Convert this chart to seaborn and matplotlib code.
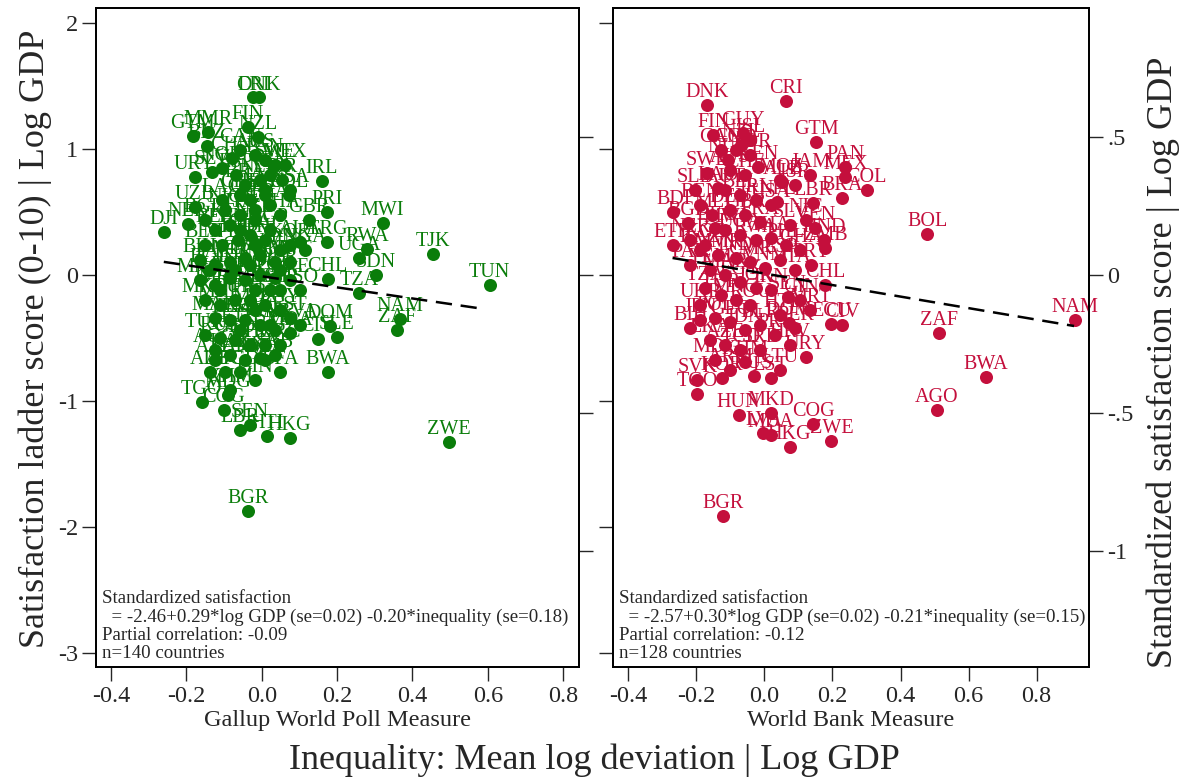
import matplotlib
matplotlib.use("Agg")
import matplotlib.pyplot as plt
import seaborn as sns
import pandas as pd

# Gallup World Poll panel (residual satisfaction ladder vs residual inequality)
gallup_codes = ['CRI', 'DNK', 'FIN', 'NZL', 'GTM', 'MMR', 'BLZ', 'CHN', 'SLV', 'URY',
                'NOR', 'PAN', 'MEX', 'CAN', 'AUS', 'ISR', 'USA', 'BOL', 'IRL', 'SWE',
                'VEN', 'BRA', 'NLD', 'ESP', 'COL', 'SAU', 'LAO', 'UZB', 'NER', 'DJI',
                'GBR', 'PRI', 'ARG', 'BGD', 'BEL', 'KEN', 'ITA', 'DEU', 'FRA', 'THA',
                'AUT', 'KOR', 'JPN', 'PHL', 'GHA', 'IND', 'NPL', 'BEN', 'BIH', 'PAK',
                'MLI', 'CMR', 'VNM', 'JOR', 'KWT', 'ARE', 'POL', 'ROU', 'UKR', 'BLR',
                'KGZ', 'MNG', 'ECU', 'MKD', 'MNE', 'HUN', 'PRT', 'IRN', 'EGY', 'EST',
                'LVA', 'MAR', 'YEM', 'LBN', 'SVN', 'SVK', 'CHL', 'MDA', 'TUR', 'RUS',
                'GEO', 'LTU', 'HRV', 'GRC', 'KAZ', 'ARM', 'LKA', 'SRB', 'AZE', 'ALB',
                'AFG', 'TCD', 'GIN', 'BFA', 'KHM', 'TGO', 'MDG', 'COG', 'LBR', 'SEN',
                'HTI', 'HKG', 'DOM', 'SLE', 'CIV', 'BWA', 'SDN', 'TZA', 'UGA', 'RWA',
                'MWI', 'TJK', 'TUN', 'NAM', 'ZAF', 'ZWE', 'BGR', 'NGA', 'LSO', 'CZE',
                'CHE', 'SGP', 'MYS', 'IDN', 'TWN', 'SYR', 'MRT', 'GAB', 'IRQ', 'PER',
                'NIC', 'HND', 'PRY', 'DZA', 'ETH', 'MOZ', 'AGO', 'LUX']
gallup_x = [-0.024, -0.006, -0.037, -0.011, -0.183, -0.143, -0.146, -0.080, -0.133, -0.178,
            -0.106, 0.008, 0.061, -0.058, -0.019, 0.053, 0.074, 0.072, 0.159, 0.035,
            0.021, -0.045, -0.005, -0.069, -0.032, 0.008, -0.106, -0.178, -0.197, -0.260,
            0.125, 0.173, 0.173, -0.151, -0.125, -0.085, -0.058, -0.019, 0.021, 0.048,
            0.101, 0.074, 0.048, 0.008, -0.032, -0.064, -0.106, -0.151, -0.165, -0.125,
            -0.085, -0.045, -0.005, 0.035, 0.074, 0.074, 0.035, -0.005, -0.045, -0.085,
            -0.125, -0.165, -0.138, -0.151, -0.112, -0.072, -0.032, 0.008, 0.048, 0.074,
            0.101, -0.125, -0.085, -0.045, -0.005, 0.035, 0.175, 0.074, -0.151, -0.112,
            -0.072, -0.032, 0.008, 0.048, -0.085, -0.045, -0.005, 0.035, -0.125, -0.138,
            -0.098, -0.058, -0.019, 0.048, -0.085, -0.159, -0.090, -0.101, -0.058, -0.032,
            0.013, 0.074, 0.181, 0.199, 0.149, 0.175, 0.303, 0.258, 0.258, 0.279,
            0.321, 0.454, 0.605, 0.367, 0.359, 0.497, -0.037, 0.114, 0.101, -0.019,
            -0.058, 0.021, -0.019, -0.072, 0.021, 0.048, -0.112, 0.021, -0.032, 0.048,
            -0.098, -0.058, -0.019, 0.008, -0.058, -0.019, -0.125, 0.008]
gallup_y = [1.41, 1.41, 1.175, 1.095, 1.103, 1.135, 1.024, 0.929, 0.817, 0.778,
            0.85, 0.913, 0.873, 0.992, 0.952, 0.754, 0.675, 0.635, 0.746, 0.873,
            0.794, 0.714, 0.754, 0.794, 0.595, 0.635, 0.595, 0.540, 0.405, 0.341,
            0.437, 0.500, 0.262, 0.437, 0.357, 0.397, 0.476, 0.516, 0.556, 0.476,
            0.262, 0.238, 0.198, 0.278, 0.317, 0.278, 0.238, 0.238, 0.119, 0.079,
            0.103, 0.135, 0.159, 0.103, 0.103, -0.040, -0.024, 0.0, -0.040, -0.024,
            -0.079, -0.040, 0.040, -0.198, -0.238, -0.198, -0.198, -0.238, -0.278, -0.341,
            -0.397, -0.341, -0.357, -0.357, -0.397, -0.437, -0.032, -0.460, -0.476, -0.500,
            -0.516, -0.556, -0.556, -0.556, -0.635, -0.675, -0.659, -0.635, -0.675, -0.770,
            -0.770, -0.770, -0.833, -0.770, -0.913, -1.008, -0.952, -1.071, -1.230, -1.190,
            -1.278, -1.294, -0.405, -0.492, -0.508, -0.770, 0.0, -0.143, 0.135, 0.206,
            0.413, 0.167, -0.079, -0.349, -0.437, -1.325, -1.873, 0.198, -0.119, 0.437,
            0.635, 0.357, -0.119, 0.040, -0.119, -0.119, -0.119, -0.397, 0.079, 0.040,
            0.516, 0.357, 0.238, -0.675, -0.437, -0.278, -0.595, 0.675]

# World Bank panel
wb_codes = ['DNK', 'CRI', 'FIN', 'GUY', 'NZL', 'GTM', 'COD', 'NLD', 'SWE', 'KEN',
            'MOZ', 'JAM', 'PAN', 'MEX', 'COL', 'BRA', 'LBR', 'ALB', 'NPL', 'BDI',
            'BGD', 'LAO', 'ETH', 'HND', 'ZMB', 'KAZ', 'BOL', 'CHL', 'PRY', 'TZA',
            'SEN', 'ECU', 'CIV', 'DOM', 'PER', 'URY', 'SVK', 'TGO', 'HUN', 'MKD',
            'LVA', 'MDA', 'HKG', 'COG', 'ZWE', 'NAM', 'ZAF', 'BWA', 'AGO', 'BGR',
            'ARM', 'RUS', 'EST', 'KOR', 'LTU', 'CAN', 'NOR', 'AUS', 'CHE', 'SLB',
            'ISR', 'AUT', 'BEL', 'IRL', 'USA', 'BEN', 'MLI', 'DEU', 'GBR', 'FRA',
            'SLV', 'NIC', 'VEN', 'MWI', 'UGA', 'RWA', 'THA', 'PHL', 'GHA', 'NER',
            'KGZ', 'MMR', 'IND', 'CMR', 'VNM', 'ESP', 'ITA', 'PAK', 'YEM', 'MAR',
            'EGY', 'JOR', 'IRN', 'TUR', 'MNG', 'ROU', 'GIN', 'MRT', 'UKR', 'JPN',
            'POL', 'GEO', 'IDN', 'BLR', 'PRT', 'BIH', 'LKA', 'AZE', 'TCD', 'SRB',
            'HRV', 'MDG', 'KHM', 'ISL', 'BFA', 'HTI']
wb_x = [-0.168, 0.062, -0.150, -0.062, -0.068, 0.153, -0.085, -0.106, -0.168, -0.018,
        0.047, 0.135, 0.238, 0.238, 0.300, 0.229, 0.144, 0.053, 0.038, -0.268,
        -0.224, -0.135, -0.268, 0.174, 0.179, -0.188, 0.479, 0.179, 0.138, -0.174,
        0.068, 0.197, 0.229, 0.071, 0.091, 0.121, -0.197, -0.197, -0.076, 0.018,
        -0.003, 0.018, 0.074, 0.144, 0.197, 0.912, 0.512, 0.650, 0.506, -0.121,
        -0.100, -0.032, 0.018, -0.124, 0.047, -0.129, -0.041, -0.100, -0.056, -0.203,
        0.091, -0.115, -0.071, -0.026, 0.018, -0.188, -0.153, -0.100, -0.056, -0.012,
        0.076, 0.121, 0.150, -0.115, -0.071, -0.026, 0.018, 0.062, 0.106, -0.218,
        -0.174, -0.135, -0.085, -0.041, 0.003, 0.047, 0.091, -0.218, -0.159, -0.115,
        -0.071, -0.026, 0.018, -0.129, -0.085, -0.041, 0.106, 0.135, -0.188, -0.188,
        -0.144, -0.100, -0.056, -0.012, 0.032, -0.218, -0.159, -0.115, -0.071, -0.012,
        0.076, -0.144, -0.056, -0.041, -0.144, 0.047]
wb_y = [1.349, 1.381, 1.111, 1.127, 1.032, 1.056, 0.992, 0.913, 0.810, 0.857,
        0.754, 0.794, 0.857, 0.778, 0.675, 0.611, 0.571, 0.738, 0.579, 0.500,
        0.413, 0.690, 0.238, 0.278, 0.214, 0.198, 0.325, -0.079, 0.079, -0.103,
        -0.175, -0.389, -0.397, -0.381, -0.421, -0.651, -0.833, -0.944, -1.111, -1.095,
        -1.254, -1.270, -1.365, -1.183, -1.317, -0.357, -0.460, -0.810, -1.071, -1.913,
        -0.754, -0.802, -0.817, -0.817, -0.754, 0.992, 0.952, 0.833, 0.794, 0.675,
        0.714, 0.675, 0.635, 0.595, 0.556, 0.556, 0.476, 0.516, 0.476, 0.421,
        0.397, 0.437, 0.373, 0.357, 0.317, 0.278, 0.294, 0.238, 0.198, 0.278,
        0.238, 0.159, 0.135, 0.103, 0.056, 0.119, 0.040, 0.079, 0.040, 0.0,
        -0.056, -0.103, -0.119, -0.159, -0.198, -0.238, -0.198, -0.278, -0.238, -0.357,
        -0.341, -0.373, -0.437, -0.397, -0.476, -0.421, -0.516, -0.556, -0.595, -0.595,
        -0.556, -0.675, -0.690, 1.071, 0.373, -0.317]

# fitted lines (end points over the data range)
gallup_fit_x = [-0.26, 0.59]
gallup_fit_y = [0.104, -0.27]
wb_fit_x = [-0.27, 0.91]
wb_fit_y = [0.135, -0.405]

gallup_note = ("Standardized satisfaction\n"
               "  = -2.46+0.29*log GDP (se=0.02) -0.20*inequality (se=0.18)\n"
               "Partial correlation: -0.09\n"
               "n=140 countries")
wb_note = ("Standardized satisfaction\n"
           "  = -2.57+0.30*log GDP (se=0.02) -0.21*inequality (se=0.15)\n"
           "Partial correlation: -0.12\n"
           "n=128 countries")

# ratio between ladder scale and standardized scale
sd_ratio = 2.19

sns.set_theme(style='white')
plt.rcParams['font.family'] = ['Liberation Serif', 'DejaVu Serif']
plt.rcParams['axes.unicode_minus'] = False

green = '#0A7D0A'
red = '#C40F3C'

fig = plt.figure(figsize=(11.91, 7.82), dpi=100)
ax1 = fig.add_axes([0.0806, 0.1471, 0.4055, 0.8427])
ax2 = fig.add_axes([0.5147, 0.1471, 0.3997, 0.8427])

ylim = (-3.111, 2.119)
panels = [
    (ax1, gallup_codes, gallup_x, gallup_y, green, gallup_fit_x, gallup_fit_y,
     gallup_note, 'Gallup World Poll Measure', (-0.44, 0.842)),
    (ax2, wb_codes, wb_x, wb_y, red, wb_fit_x, wb_fit_y,
     wb_note, 'World Bank Measure', (-0.445, 0.954)),
]

for i, (ax, codes, xs, ys, col, fx, fy, note, xlab, xlim) in enumerate(panels):
    df = pd.DataFrame({'code': codes, 'x': xs, 'y': ys})
    sns.scatterplot(data=df, x='x', y='y', ax=ax, color=col, s=88,
                    linewidth=0, zorder=3)
    for c, x, y in zip(codes, xs, ys):
        ax.annotate(c, (x, y), xytext=(0, 5.5), textcoords='offset points',
                    ha='center', va='baseline', fontsize=14.5, color=col, zorder=4)
    sns.lineplot(x=fx, y=fy, ax=ax, color='black', linewidth=1.8, zorder=5)
    ax.lines[-1].set_linestyle((0, (6.5, 3.5)))

    ax.set_xlim(xlim)
    ax.set_ylim(ylim)
    ax.set_xticks([-0.4, -0.2, 0.0, 0.2, 0.4, 0.6, 0.8])
    ax.set_xticklabels(['-0.4', '-0.2', '0.0', '0.2', '0.4', '0.6', '0.8'])
    ax.set_yticks([2, 1, 0, -1, -2, -3])
    ax.set_xlabel(xlab, fontsize=17.5, labelpad=2)
    ax.set_ylabel('')
    ax.tick_params(axis='x', direction='out', length=10, width=1, labelsize=17.5,
                   bottom=True, pad=4)
    ax.tick_params(axis='y', direction='out', length=10, width=1, labelsize=17.5,
                   left=True, pad=3)
    if i == 1:
        ax.tick_params(axis='y', labelleft=False)
    for sp in ax.spines.values():
        sp.set_color('black')
        sp.set_linewidth(1.3)

    ax.text(0.012, 0.008, note, transform=ax.transAxes, fontsize=13.6,
            ha='left', va='bottom', linespacing=1.08, zorder=6)

    # right-hand standardized axis
    tw = ax.twinx()
    tw.set_ylim(ylim[0] / sd_ratio, ylim[1] / sd_ratio)
    tw.set_yticks([0.5, 0, -0.5, -1])
    tw.set_yticklabels(['.5', '0', '-.5', '-1'])
    tw.tick_params(axis='y', direction='out', length=10, width=1, labelsize=17.5,
                   right=True, pad=3)
    if i == 0:
        tw.tick_params(axis='y', labelright=False)
    tw.grid(False)
    for sp in tw.spines.values():
        sp.set_color('black')
        sp.set_linewidth(1.3)

fig.text(0.0294, 0.5665, 'Satisfaction ladder score (0-10) | Log GDP',
         rotation=90, ha='center', va='center', fontsize=26)
fig.text(0.9765, 0.537, 'Standardized satisfaction score | Log GDP',
         rotation=90, ha='center', va='center', fontsize=26)
fig.text(0.4987, 0.028, 'Inequality: Mean log deviation | Log GDP',
         ha='center', va='center', fontsize=26)

fig.savefig('out.png', dpi=100)
